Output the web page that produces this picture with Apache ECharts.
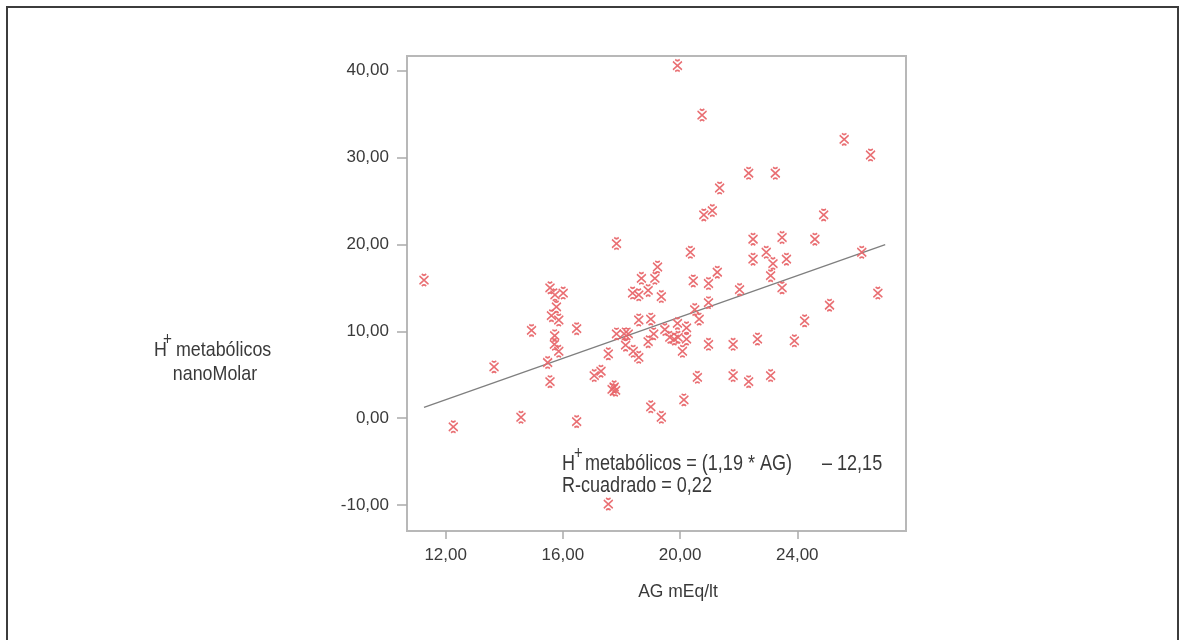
<!DOCTYPE html>
<html>
<head>
<meta charset="utf-8">
<script src="https://cdn.jsdelivr.net/npm/echarts@6/dist/echarts.min.js"></script>
<style>
  html, body { margin: 0; padding: 0; background: #ffffff; }
  #chart { width: 1186px; height: 640px; }
</style>
</head>
<body>
<div id="chart"></div>
<script>
// Anion gap (mEq/l) for each patient
const agValues = [
  11.26, 12.26, 13.65, 14.57, 14.93, 15.48, 15.56, 15.56, 15.61, 15.71,
  15.72, 15.73, 15.78, 15.86, 15.86, 16.01, 16.47, 16.47, 17.07, 17.30,
  17.55, 17.55, 17.68, 17.75, 17.80, 17.83, 17.83, 18.09, 18.14, 18.23,
  18.38, 18.40, 18.59, 18.59, 18.59, 18.68, 18.91, 18.91, 19.00, 19.00,
  19.10, 19.14, 19.23, 19.36, 19.36, 19.48, 19.65, 19.80, 19.91, 19.91,
  19.93, 20.08, 20.13, 20.22, 20.22, 20.35, 20.45, 20.50, 20.59, 20.65,
  20.75, 20.81, 20.97, 20.97, 20.97, 21.10, 21.27, 21.35, 21.81, 21.81,
  22.03, 22.34, 22.34, 22.49, 22.49, 22.64, 22.94, 23.09, 23.09, 23.17,
  23.25, 23.48, 23.48, 23.63, 23.90, 24.25, 24.60, 24.90, 25.10, 25.60,
  26.20, 26.50, 26.75
];
// Metabolic H+ (nanomolar) for the same patients
const hValues = [
  15.9, -1.0, 5.9, 0.1, 10.1, 6.4, 15.0, 4.2, 11.8, 8.5,
  9.5, 14.2, 12.8, 11.3, 7.7, 14.4, 10.3, -0.4, 4.9, 5.4,
  7.4, -9.9, 3.3, 3.6, 3.2, 20.1, 9.7, 9.7, 8.4, 9.7,
  14.4, 7.7, 14.2, 11.3, 7.0, 16.1, 14.7, 8.8, 11.4, 1.3,
  9.7, 16.1, 17.4, 14.0, 0.1, 10.2, 9.3, 9.1, 40.6, 10.9,
  9.3, 7.7, 2.1, 10.4, 9.1, 19.1, 15.8, 12.5, 4.7, 11.4,
  34.9, 23.4, 15.5, 13.3, 8.5, 23.9, 16.8, 26.5, 8.5, 4.9,
  14.8, 28.2, 4.2, 20.6, 18.3, 9.1, 19.1, 16.4, 4.9, 17.8,
  28.2, 20.8, 15.0, 18.3, 8.9, 11.2, 20.6, 23.4, 13.0, 32.1,
  19.1, 30.3, 14.4
];

const xTicks = [12, 16, 20, 24];
const yTicks = [-10, 0, 10, 20, 30, 40];

// Linear fit reported on the chart
const fitSlope = 1.19;
const fitIntercept = -12.15;
const rSquared = 0.22;
const fitRange = [11.26, 27.0];

const points = agValues.map((x, i) => [x, hValues[i]]);
const fitLine = fitRange.map(x => [x, fitSlope * x + fitIntercept]);

const fmt = v => v.toFixed(2).replace('.', ',');

const textColor = '#3a3a3a';
const regular = "'Liberation Sans', Arial, sans-serif";

// Condensed-looking text: regular face squeezed horizontally
function squeezed(x, y, text, size, opts) {
  opts = opts || {};
  return {
    type: 'text',
    x: x, y: y,
    scaleX: opts.scale || 0.82,
    silent: true,
    style: {
      x: 0, y: 0, text: text,
      fontFamily: regular, fontSize: size,
      fill: textColor,
      align: opts.align || 'left',
      verticalAlign: 'middle'
    }
  };
}

const chart = echarts.init(document.getElementById('chart'), null, { renderer: 'canvas' });

const option = {
  backgroundColor: '#ffffff',
  animation: false,
  grid: {
    left: 407, top: 56, width: 499, height: 475,
    show: true,
    borderColor: '#b8b8b8',
    borderWidth: 2,
    backgroundColor: '#ffffff'
  },
  xAxis: {
    type: 'value',
    min: 10.68,
    max: 27.71,
    axisLine: { show: false, onZero: false },
    splitLine: { show: false },
    axisTick: {
      show: true, length: 8, inside: false,
      customValues: xTicks,
      lineStyle: { color: '#aaaaaa', width: 1.5 }
    },
    axisLabel: {
      customValues: xTicks,
      formatter: fmt,
      margin: 16,
      fontFamily: regular, fontSize: 17, color: textColor
    }
  },
  yAxis: {
    type: 'value',
    min: -13,
    max: 41.7,
    axisLine: { show: false, onZero: false },
    splitLine: { show: false },
    axisTick: {
      show: true, length: 10, inside: false,
      customValues: yTicks,
      lineStyle: { color: '#aaaaaa', width: 1.5 }
    },
    axisLabel: {
      customValues: yTicks,
      formatter: fmt,
      margin: 18,
      fontFamily: regular, fontSize: 17, color: textColor
    }
  },
  series: [
    {
      type: 'line',
      data: fitLine,
      symbol: 'none',
      silent: true,
      lineStyle: { color: '#7f7f7f', width: 1.3 },
      z: 3
    },
    {
      type: 'scatter',
      data: points,
      symbol: 'path://M1,2L9,11M9,2L1,11M3,0Q5,2.5 7,0M3,13Q5,10.5 7,13',
      symbolSize: [9, 12],
      itemStyle: {
        color: 'rgba(0,0,0,0)',
        borderColor: '#e8676c',
        borderWidth: 1.6,
        opacity: 0.95
      },
      z: 4
    }
  ],
  graphic: [
    {
      type: 'rect',
      shape: { x: 7, y: 7, width: 1171, height: 700 },
      style: { fill: 'none', stroke: '#3c3c3c', lineWidth: 2 },
      silent: true,
      z: 0
    },
    // X axis title
    squeezed(678, 592, 'AG mEq/lt', 19, { scale: 0.92, align: 'center' }),
    // Y axis title
    squeezed(154, 350, 'H', 21, { scale: 0.85 }),
    squeezed(163, 340, '+', 18, { scale: 0.85 }),
    squeezed(176, 350, 'metabólicos', 21, { scale: 0.85 }),
    squeezed(215, 374, 'nanoMolar', 21, { scale: 0.85, align: 'center' }),
    // Regression equation
    squeezed(562, 464, 'H', 22),
    squeezed(574, 454, '+', 18),
    squeezed(585, 464, 'metabólicos = (' + fmt(fitSlope) + ' * AG)', 22),
    squeezed(822, 464, '\u2013 ' + fmt(Math.abs(fitIntercept)), 22),
    squeezed(562, 486, 'R-cuadrado = ' + fmt(rSquared), 22)
  ]
};

chart.setOption(option);
</script>
</body>
</html>
